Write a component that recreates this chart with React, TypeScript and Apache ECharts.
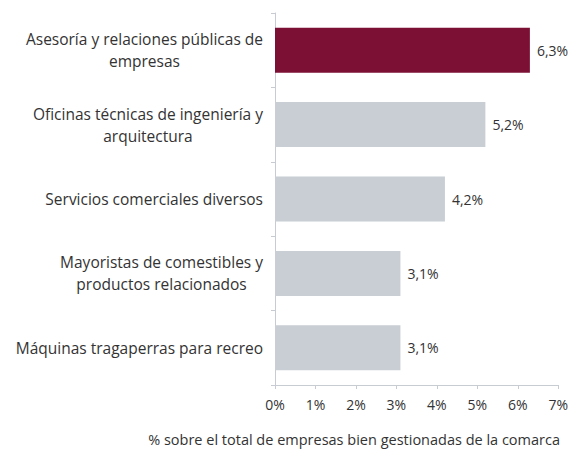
import React, { useEffect, useRef } from "react";
import * as echarts from "echarts";

const categories = [
  "Asesoría y relaciones públicas de\nempresas",
  "Oficinas técnicas de ingeniería y\narquitectura",
  "Servicios comerciales diversos",
  "Mayoristas de comestibles y\nproductos relacionados",
  "Máquinas tragaperras para recreo",
];
const values = [6.3, 5.2, 4.2, 3.1, 3.1];
const highlightIndex = 0;
const xTicks = [0, 1, 2, 3, 4, 5, 6, 7];
const axisTitle = "% sobre el total de empresas bien gestionadas de la comarca";

const FONT = "'Open Sans', 'Noto Sans', sans-serif";
const TEXT = "#333333";
const AXIS = "#c6ccd2";

export default function App() {
  const ref = useRef<HTMLDivElement>(null);
  useEffect(() => {
    document.body.style.margin = "0";
    const chart = echarts.init(ref.current!, null, { renderer: "svg" });
    chart.setOption({
      animation: false,
      textStyle: { fontFamily: FONT },
      grid: { left: 275, right: 10, top: 13, bottom: 69, containLabel: false },
      xAxis: {
        type: "value",
        min: xTicks[0],
        max: xTicks[xTicks.length - 1],
        interval: 1,
        axisLine: { show: true, lineStyle: { color: AXIS, width: 1 } },
        axisTick: { show: true, length: 4, lineStyle: { color: AXIS } },
        splitLine: { show: false },
        axisLabel: {
          color: TEXT,
          fontSize: 14,
          margin: 12,
          fontFamily: FONT,
          formatter: (v: number) => `${v}%`,
        },
      },
      yAxis: {
        type: "category",
        inverse: true,
        data: categories,
        axisLine: { show: true, lineStyle: { color: AXIS, width: 1 } },
        axisTick: { show: true, length: 4, lineStyle: { color: AXIS } },
        axisLabel: {
          color: TEXT,
          fontSize: 15.5,
          margin: 12,
          align: "right",
          lineHeight: 22,
          fontFamily: FONT,
          formatter: (v: string) =>
            v
              .split("\n")
              .map((l) => `{c|${l}}`)
              .join("\n"),
          rich: {
            c: { align: "center", fontSize: 15.5, lineHeight: 22, color: TEXT, fontFamily: FONT },
          },
        },
      },
      series: [
        {
          type: "bar",
          data: values.map((v, i) => ({
            value: v,
            itemStyle: { color: i === highlightIndex ? "#7b1034" : "#c8ced4" },
          })),
          barWidth: 45,
          label: {
            show: true,
            position: "right",
            distance: 7,
            color: TEXT,
            fontSize: 14,
            fontFamily: FONT,
            formatter: (p: any) => `${String(p.value.toFixed(1)).replace(".", ",")}%`,
          },
        },
      ],
      graphic: [
        {
          type: "text",
          right: 11,
          top: 432,
          style: {
            text: axisTitle,
            fill: TEXT,
            font: `14.5px ${FONT}`,
          },
        },
      ],
    });
    return () => chart.dispose();
  }, []);
  return <div ref={ref} style={{ width: 571, height: 454 }} />;
}
